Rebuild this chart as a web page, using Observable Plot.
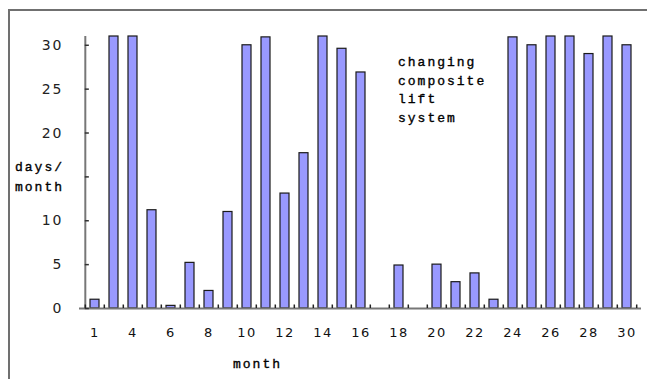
<!DOCTYPE html>
<html>
<head>
<meta charset="utf-8">
<script src="https://cdn.jsdelivr.net/npm/d3@7"></script>
<script src="https://cdn.jsdelivr.net/npm/@observablehq/plot@0.6"></script>
<style>
  body { margin: 0; background: #fff; }
  #wrap { position: relative; width: 647px; height: 379px; overflow: hidden; background: #fff; }
  #frame { position: absolute; left: 8px; top: 9px; right: -4px; bottom: -4px; border-top: 2px solid #707070; border-left: 2px solid #707070; }
  .lbl { position: absolute; font-family: "Liberation Mono", monospace; font-size: 13px; letter-spacing: 2px; color: #000; white-space: pre; -webkit-text-stroke: 0.35px #000; }
  #chart svg [aria-label="y-axis tick label"] text { letter-spacing: 2px; }
  #chart svg [aria-label="x-axis tick label"] text { letter-spacing: 1.5px; }
  #chart { position: absolute; left: 0; top: 0; }
</style>
</head>
<body>
<div id="wrap">
  <div id="chart"></div>
  <div id="frame"></div>
  <div class="lbl" id="ylab" style="left:15px; top:158px; line-height:20px;">days/
month</div>
  <div class="lbl" id="xlab" style="left:233px; top:355px; line-height:20px;">month</div>
  <div class="lbl" id="note" style="left:398px; top:54px; line-height:18.5px;">changing
composite
lift
system</div>
</div>
<script>
// Data
const months = ["1","2","4","5","6","7","8","9","10","11","12","13","14","15","16","17","18","19","20","21","22","23","24","25","26","27","28","29","30"];
const days   = [1, 31, 31, 11.2, 0.3, 5.2, 2, 11, 30, 30.9, 13.1, 17.7, 31, 29.6, 26.9, 0, 4.9, 0, 5, 3, 4, 1, 30.9, 30, 31, 31, 29, 31, 30];
const yTicks = [0, 5, 10, 15, 20, 25, 30];
const yTickLabels = [0, 5, 10, 20, 25, 30]; // "15" is covered by the axis title in the reference
const xTickLabels = months.filter((d, i) => i % 2 === 0);

const data = months.map((m, i) => ({month: m, days: days[i]}));

const W = 647, H = 379, mL = 79, mR = 6, mT = 36, mB = 71;
const pInner = 0.54, pOuter = 0.27;
const step = (W - mL - mR) / months.length;
const bw = step * (1 - pInner);

const chart = Plot.plot({
  width: W, height: H,
  marginLeft: mL, marginRight: mR, marginTop: mT, marginBottom: mB,
  style: {fontFamily: "DejaVu Sans, sans-serif", background: "transparent", overflow: "visible"},
  x: {type: "band", domain: months, paddingInner: pInner, paddingOuter: pOuter, axis: null, label: null},
  y: {domain: [0, 31], axis: null, label: null},
  marks: [
    Plot.barY(data, {x: "month", y: "days", fill: "#9999ff", stroke: "#1a1a1a", strokeWidth: 1.2}),
    // x axis line
    Plot.ruleY([0], {stroke: "#777", strokeWidth: 2}),
    // y axis line
    Plot.ruleX([months[0]], {x: d => d, y1: 0, y2: 31, dx: -step / 2, stroke: "#777", strokeWidth: 2}),
    // x tick marks between categories
    Plot.ruleX(months, {x: d => d, y1: 0, y2: 0.4, dx: -step / 2, stroke: "#222", strokeWidth: 1.5}),
    Plot.ruleX([months[months.length - 1]], {x: d => d, y1: 0, y2: 0.4, dx: step / 2, stroke: "#222", strokeWidth: 1.5}),
    // y tick marks pointing inward from the axis line
    Plot.tickY(yTicks, {y: d => d, x: () => months[0], dx: -step * pOuter, insetRight: bw - 4, stroke: "#333", strokeWidth: 1.5}),
    // y labels
    Plot.axisY(yTickLabels, {tickSize: 0, tickPadding: 16, fontSize: 14, fill: "#222", label: null}),
    // x labels
    Plot.axisX(xTickLabels, {tickSize: 0, tickPadding: 19, fontSize: 13, fill: "#111", label: null})
  ]
});
document.getElementById("chart").append(chart);
</script>
</body>
</html>
